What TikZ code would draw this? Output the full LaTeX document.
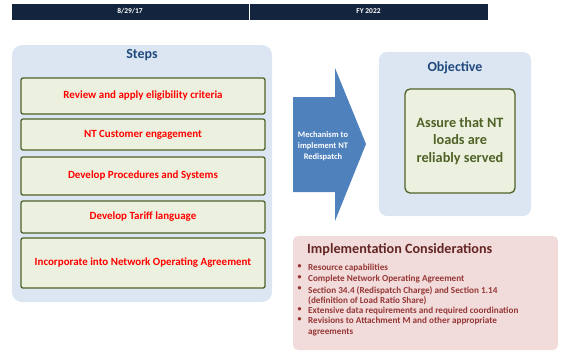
\documentclass[tikz,border=0pt]{standalone}
\usepackage{fontspec}
\setmainfont{Carlito}
\definecolor{navy}{HTML}{13243F}
\definecolor{panelblue}{HTML}{DCE6F2}
\definecolor{titleblue}{HTML}{1F497D}
\definecolor{stepfill}{HTML}{EBF1DE}
\definecolor{stepdraw}{HTML}{4F6228}
\definecolor{arrowblue}{HTML}{4F81BD}
\definecolor{pinkfill}{HTML}{F2DCDB}
\definecolor{darkred}{HTML}{632523}
\definecolor{bulletred}{HTML}{953735}
\tikzset{
  hdr/.style={fill=navy, draw=white, line width=0.8bp, text=white, font=\bfseries\fontsize{7.5}{8}\selectfont},
  panel/.style={fill=panelblue, rounded corners=8bp, draw=none},
  stepbox/.style={fill=stepfill, draw=stepdraw, line width=1.3bp, rounded corners=2bp, text=red, font=\bfseries\fontsize{11}{12}\selectfont},
  ptitle/.style={text=titleblue, font=\bfseries\fontsize{14}{16}\selectfont},
  bitem/.style={text=bulletred, font=\bfseries\fontsize{9.2}{10.6}\selectfont, anchor=north west, align=left, inner sep=0pt},
}
\begin{document}
\begin{tikzpicture}[x=1bp,y=-1bp]
\useasboundingbox (0,0) rectangle (569,351);
% header
\path[hdr] (11,3) rectangle (249,20) node[midway] (d1) {8/29/17};
\path[hdr] (249,3) rectangle (488,20) node[midway] (d2) {FY 2022};
% steps panel
\path[panel, rounded corners=10bp] (12,45) rectangle (272,302);
\node[ptitle] (steps) at (142,55) {Steps};
\path[stepbox] (21,78) rectangle (265,114) node[midway] (s1) {Review and apply eligibility criteria};
\path[stepbox] (21,119) rectangle (265,150) node[midway] (s2) {NT Customer engagement};
\path[stepbox] (21,157) rectangle (265,195) node[midway] (s3) {Develop Procedures and Systems};
\path[stepbox] (21,201) rectangle (265,233) node[midway] (s4) {Develop Tariff language};
\path[stepbox] (21,238) rectangle (265,288) node[midway] (s5) {Incorporate into Network Operating Agreement};
% arrow
\fill[arrowblue] (293,97) -- (335,97) -- (335,68) -- (366,144) -- (335,221) -- (335,192) -- (293,192) -- cycle;
\node[text=white, font=\bfseries\fontsize{8.5}{10.8}\selectfont, align=center] (mech) at (323,146) {Mechanism to\\implement NT\\Redispatch};
% objective panel
\path[panel] (379,52) rectangle (531,216);
\node[ptitle] (obj) at (455,68) {Objective};
\path[stepbox, text=stepdraw, rounded corners=5bp, font=\bfseries\fontsize{14.3}{17.5}\selectfont, align=center] (405,89) rectangle (515,193) node[midway] (assure) {Assure that NT\\loads are\\reliably served};
% implementation
\path[fill=pinkfill, rounded corners=5bp] (293,236) rectangle (558,350);
\node[anchor=west, text=darkred, font=\fontsize{14.2}{16}\selectfont\bfseries, inner sep=0pt] (impl) at (307,250) {Implementation Considerations};
\foreach \y/\t [count=\i] in {264/{Resource capabilities},275/{Complete Network Operating Agreement},286/{Section 34.4 (Redispatch Charge) and Section 1.14\\(definition of Load Ratio Share)},307/{Extensive data requirements and required coordination},317/{Revisions to Attachment M and other appropriate\\agreements}}{
  \node[bitem] (b\i) at (308,\y) {\t};
  \node[text=bulletred, font=\bfseries\fontsize{8}{9}\selectfont, inner sep=0pt, anchor=north] (bu\i) at (299.5,\y) {•};
}
\end{tikzpicture}
\end{document}
